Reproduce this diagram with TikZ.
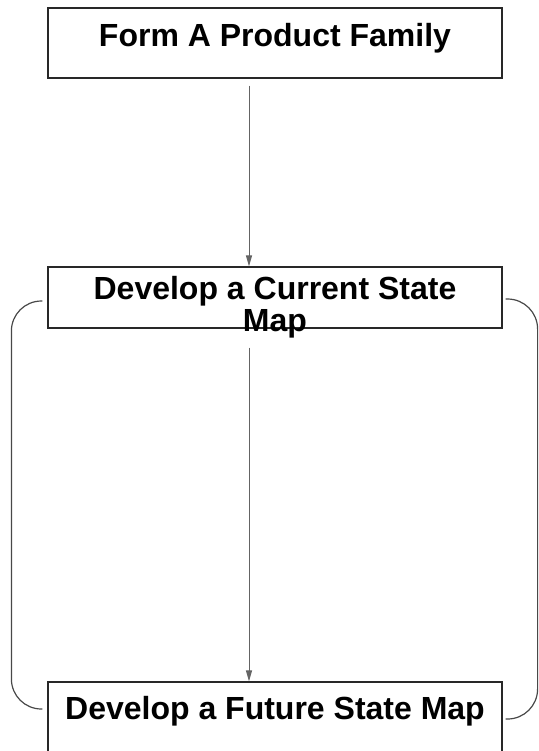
\documentclass[tikz,border=0pt]{standalone}
\usepackage{fontspec}
\setmainfont{Liberation Sans}
\definecolor{vsmline}{RGB}{40,40,40}
\definecolor{vsmarrow}{RGB}{100,100,100}
\usetikzlibrary{arrows.meta,positioning,calc}

\begin{document}
\begin{tikzpicture}[x=0.5pt,y=-0.5pt,
    stepbox/.style={draw=vsmline, line width=0.6pt, minimum width=227pt, inner sep=0pt},
    steptext/.style={font=\fontsize{16}{16}\selectfont\bfseries, align=center},
    link/.style={draw=vsmarrow, line width=0.5pt, -{Triangle[length=5.5pt,width=3pt]}},
    loopline/.style={draw=vsmline!85, line width=0.6pt, rounded corners=15pt}]
    \useasboundingbox (0,0) rectangle (538,751);

    % Steps of the value stream mapping
    \node[stepbox, minimum height=35pt, steptext, text height=12pt, text depth=8.5pt] (family) at (275,43) {Form A Product Family};
    \node[stepbox, minimum height=30.5pt] (current) at (275,297.5) {};
    \node[steptext] (currenttext) at (275,307.7) {Develop a Current State\\Map};
    \node[stepbox, minimum height=35pt, steptext, text height=12pt, text depth=10pt] (future) at (275,717) {Develop a Future State Map};

    % Arrows down
    \draw[link] ([xshift=-13pt,yshift=-3.5pt]family.south) -- ([xshift=-13pt]current.north);
    \draw[link] ([xshift=-13pt,yshift=-9.5pt]current.south) -- ([xshift=-13pt]future.north);

    % Loop between current and future state
    \draw[loopline] ([xshift=-2.5pt,yshift=-1.75pt]current.west) -- ++(-15.5pt,0)
      |- ([xshift=-2.5pt,yshift=4pt]future.west);
    \draw[loopline] ([xshift=1.5pt,yshift=-0.75pt]current.east) -- ++(16pt,0)
      |- ([xshift=1.5pt,yshift=-1pt]future.east);
\end{tikzpicture}
\end{document}
